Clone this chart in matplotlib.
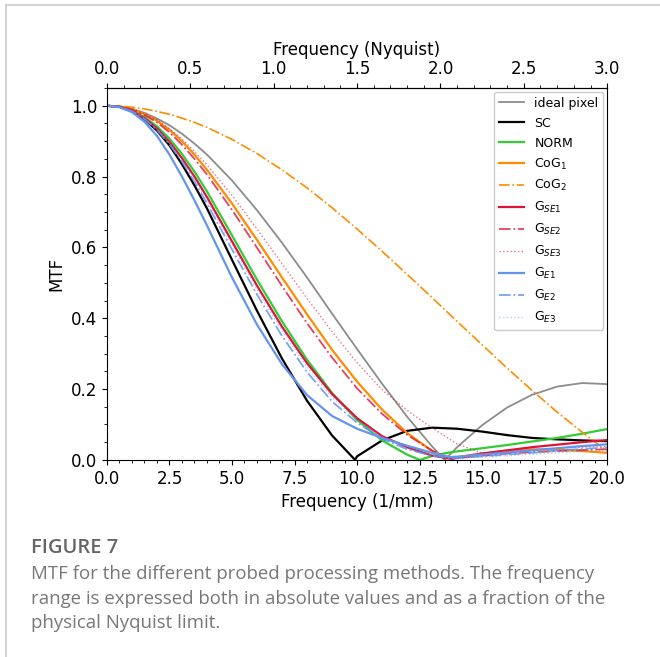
import matplotlib
matplotlib.use("Agg")
import matplotlib.pyplot as plt
from matplotlib.lines import Line2D
from matplotlib.ticker import MultipleLocator, FixedLocator

# spatial frequency where the physical Nyquist limit sits (1/mm)
NYQUIST = 20.0 / 3.0

# MTF curves (frequency in 1/mm, MTF value)
base_f = [0, 0.5, 1, 1.5, 2, 2.5, 3, 3.5, 4, 5, 6, 7, 8, 9, 10, 11, 12, 13,
          14, 15, 16, 17, 18, 19, 20]

ideal_f = base_f[:18] + [13.5] + base_f[18:]
ideal_mtf = [1.0, 0.998, 0.991, 0.980, 0.964, 0.945, 0.921, 0.893, 0.862, 0.789,
             0.705, 0.613, 0.515, 0.413, 0.313, 0.215, 0.122, 0.038, 0.0, 0.036,
             0.098, 0.148, 0.184, 0.207, 0.217, 0.214]

sc_f = base_f[:14] + [9.92] + base_f[14:]
sc_mtf = [1.0, 0.997, 0.984, 0.962, 0.930, 0.888, 0.835, 0.775, 0.710, 0.565,
          0.421, 0.286, 0.167, 0.069, 0.0, 0.010, 0.055, 0.082, 0.091, 0.088,
          0.080, 0.070, 0.062, 0.058, 0.055, 0.053]

norm_f = base_f[:17] + [12.5, 13, 13.6] + base_f[18:]
norm_mtf = [1.0, 0.997, 0.986, 0.968, 0.942, 0.907, 0.864, 0.814, 0.758, 0.634,
            0.509, 0.391, 0.283, 0.189, 0.113, 0.055, 0.015, 0.0, 0.011, 0.020,
            0.024, 0.033, 0.042, 0.052, 0.062, 0.074, 0.087]

cog1_f = base_f[:18] + [13.6] + base_f[18:]
cog1_mtf = [1.0, 0.998, 0.990, 0.977, 0.958, 0.932, 0.900, 0.862, 0.819, 0.724,
            0.621, 0.515, 0.411, 0.311, 0.221, 0.142, 0.076, 0.025, 0.004, 0.008,
            0.018, 0.026, 0.030, 0.029, 0.025, 0.020]

cog2_f = base_f
cog2_mtf = [1.0, 0.999, 0.996, 0.991, 0.984, 0.976, 0.965, 0.953, 0.939, 0.905,
            0.865, 0.819, 0.768, 0.712, 0.652, 0.589, 0.524, 0.458, 0.391, 0.325,
            0.259, 0.196, 0.135, 0.078, 0.025]

gse1_f = base_f[:18] + [13.8] + base_f[18:]
gse1_mtf = [1.0, 0.997, 0.985, 0.965, 0.936, 0.898, 0.852, 0.800, 0.742, 0.617,
            0.492, 0.376, 0.273, 0.186, 0.118, 0.067, 0.036, 0.012, 0.003, 0.006,
            0.018, 0.027, 0.036, 0.043, 0.050, 0.056]

gse2_f = base_f[:18] + [13.8] + base_f[18:]
gse2_mtf = [1.0, 0.998, 0.989, 0.974, 0.953, 0.925, 0.890, 0.850, 0.806, 0.706,
            0.599, 0.491, 0.386, 0.289, 0.202, 0.130, 0.071, 0.026, 0.003, 0.005,
            0.012, 0.018, 0.022, 0.025, 0.028, 0.030]

gse3_f = base_f[:19] + [15.3] + base_f[19:]
gse3_mtf = [1.0, 0.998, 0.991, 0.978, 0.960, 0.935, 0.906, 0.871, 0.833, 0.747,
            0.652, 0.554, 0.456, 0.362, 0.275, 0.198, 0.140, 0.090, 0.045, 0.012,
            0.018, 0.020, 0.028, 0.033, 0.036, 0.038]

ge1_f = base_f[:18] + [13.7] + base_f[18:]
ge1_mtf = [1.0, 0.996, 0.982, 0.955, 0.915, 0.862, 0.800, 0.733, 0.662, 0.515,
           0.382, 0.270, 0.183, 0.124, 0.088, 0.062, 0.040, 0.020, 0.008, 0.009,
           0.015, 0.021, 0.027, 0.033, 0.039, 0.044]

ge2_f = base_f[:18] + [13.8] + base_f[18:]
ge2_mtf = [1.0, 0.997, 0.985, 0.963, 0.932, 0.891, 0.842, 0.786, 0.724, 0.594,
           0.467, 0.350, 0.248, 0.165, 0.105, 0.060, 0.030, 0.012, 0.004, 0.005,
           0.010, 0.015, 0.020, 0.026, 0.031, 0.035]

ge3_f = base_f[:18] + [13.8] + base_f[18:]
ge3_mtf = [1.0, 0.997, 0.985, 0.964, 0.934, 0.895, 0.847, 0.793, 0.734, 0.607,
           0.481, 0.365, 0.262, 0.177, 0.112, 0.064, 0.032, 0.012, 0.004, 0.005,
           0.008, 0.012, 0.016, 0.020, 0.024, 0.028]

nyq_ticks = [0.0, 0.5, 1.0, 1.5, 2.0, 2.5, 3.0]

fig = plt.figure(figsize=(6.6, 6.57), dpi=100)
ax = fig.add_axes([0.162, 0.300, 0.758, 0.566])

ax.plot(ideal_f, ideal_mtf, color="#8c8c8c", lw=1.3, label="ideal pixel")
ax.plot(sc_f, sc_mtf, color="black", lw=1.6, label="SC")
ax.plot(norm_f, norm_mtf, color="limegreen", lw=1.6, label="NORM")
ax.plot(cog1_f, cog1_mtf, color="darkorange", lw=1.6, label="CoG$_1$")
ax.plot(cog2_f, cog2_mtf, color="darkorange", lw=1.2, ls="-.", label="CoG$_2$")
ax.plot(gse1_f, gse1_mtf, color="crimson", lw=1.6, label="G$_{SE1}$")
ax.plot(gse2_f, gse2_mtf, color="crimson", lw=1.3, ls="-.", alpha=0.8,
        label="G$_{SE2}$")
ax.plot(gse3_f, gse3_mtf, color="crimson", lw=1.0, ls=":", alpha=0.6,
        label="G$_{SE3}$")
ax.plot(ge1_f, ge1_mtf, color="cornflowerblue", lw=1.6, label="G$_{E1}$")
ax.plot(ge2_f, ge2_mtf, color="cornflowerblue", lw=1.3, ls="-.", alpha=0.85,
        label="G$_{E2}$")
ax.plot(ge3_f, ge3_mtf, color="cornflowerblue", lw=1.0, ls=":", alpha=0.5,
        label="G$_{E3}$")

ax.set_xlim(0, 20)
ax.set_ylim(0, 1.05)
ax.xaxis.set_major_locator(MultipleLocator(2.5))
ax.xaxis.set_minor_locator(MultipleLocator(0.5))
ax.yaxis.set_major_locator(MultipleLocator(0.2))
ax.yaxis.set_minor_locator(MultipleLocator(0.05))
ax.tick_params(labelsize=12)
ax.set_xlabel("Frequency (1/mm)", fontsize=12)
ax.set_ylabel("MTF", fontsize=12)

top = ax.secondary_xaxis("top", functions=(lambda f: f / NYQUIST,
                                           lambda n: n * NYQUIST))
top.xaxis.set_major_locator(FixedLocator(nyq_ticks))
top.xaxis.set_minor_locator(FixedLocator([i / 10 for i in range(31)]))
top.set_xticklabels([f"{t:.1f}" for t in nyq_ticks])
top.tick_params(labelsize=12)
top.set_xlabel("Frequency (Nyquist)", fontsize=12)

ax.legend(loc="upper right", fontsize=9, framealpha=1.0, labelspacing=0.55,
          borderaxespad=0.3)

# page border and caption
fig.add_artist(Line2D([0.009, 1.0], [0.992, 0.992], color="#cccccc", lw=1.2))
fig.add_artist(Line2D([0.009, 0.009], [0.0, 0.992], color="#cccccc", lw=1.2))

fig.text(0.047, 1 - 548 / 657, "FIGURE 7", fontsize=14.5, color="#666666",
         family="Open Sans", weight="semibold", va="center")
caption = ["MTF for the different probed processing methods. The frequency",
           "range is expressed both in absolute values and as a fraction of the",
           "physical Nyquist limit."]
for i, line in enumerate(caption):
    fig.text(0.047, 1 - (574 + 24.5 * i) / 657, line, fontsize=13.4,
             color="#777777", family="Open Sans", va="center")

fig.savefig("out.png", dpi=100)
